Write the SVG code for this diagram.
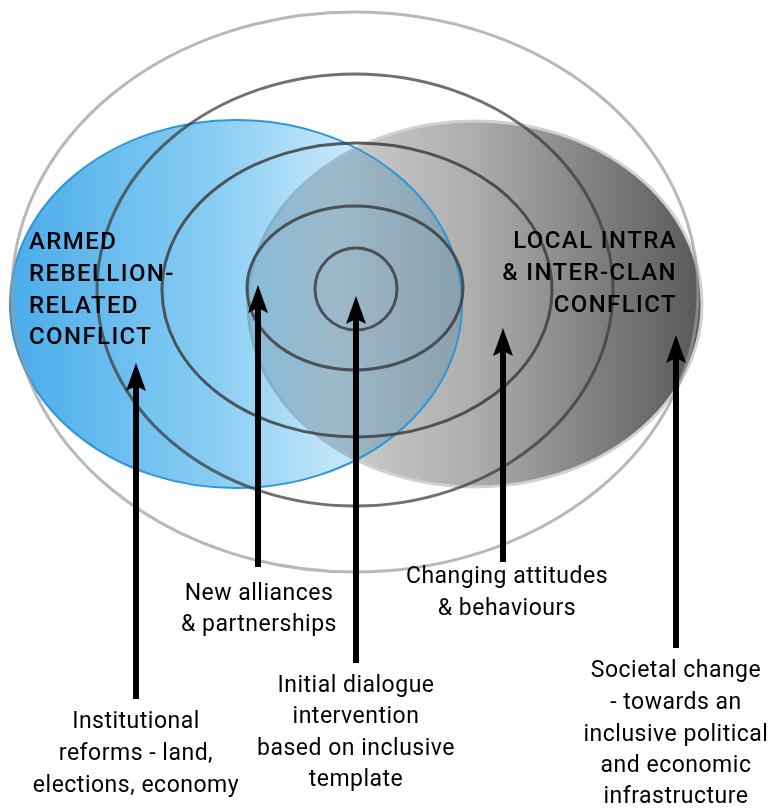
<svg xmlns="http://www.w3.org/2000/svg" width="774" height="809" viewBox="0 0 774 809">
  <style>
    .title { font-family: Roboto, "Liberation Sans", sans-serif; font-size: 24px; font-weight: 500; fill: #000; letter-spacing: 1.4px; }
    .label { font-family: Roboto, "Liberation Sans", sans-serif; font-size: 23px; font-weight: 400; fill: #000; text-anchor: middle; letter-spacing: 0.5px; }
    .ring { fill: none; stroke: #3a3a3a; stroke-width: 3; stroke-opacity: 0.82; }
    .ring-outer { fill: none; stroke: #9a9a9a; stroke-width: 3; stroke-opacity: 0.7; }
    .shaft { stroke: #000; stroke-width: 6; marker-end: url(#head); }
  </style>
  <defs>
    <linearGradient id="blueFill" gradientUnits="userSpaceOnUse" x1="10" y1="0" x2="462" y2="0">
      <stop offset="0" stop-color="#4aacea"/>
      <stop offset="0.45" stop-color="#88cdf3"/>
      <stop offset="0.72" stop-color="#c2e6fa"/>
      <stop offset="1" stop-color="#c8e9fb"/>
    </linearGradient>
    <linearGradient id="grayFill" gradientUnits="userSpaceOnUse" x1="247" y1="0" x2="702" y2="0">
      <stop offset="0" stop-color="#e2e2e2"/>
      <stop offset="0.5" stop-color="#adadad"/>
      <stop offset="1" stop-color="#585858"/>
    </linearGradient>
    <marker id="head" markerUnits="userSpaceOnUse" viewBox="-10 -12 32 24" markerWidth="32" markerHeight="24" refX="0" refY="0" orient="auto">
      <path d="M20,0 L-8,-10 L-3,0 L-8,10 Z" fill="#000"/>
    </marker>
  </defs>

  <!-- conflict areas -->
  <g id="armed-rebellion">
    <ellipse cx="236" cy="304" rx="226" ry="184" fill="url(#blueFill)"/>
  </g>
  <g id="local-clan">
    <ellipse cx="475" cy="304" rx="227" ry="183" fill="url(#grayFill)" stroke="#d0d0d0" stroke-width="3" style="mix-blend-mode: multiply"/>
  </g>
  <ellipse cx="236" cy="304" rx="226" ry="184" fill="none" stroke="#2f96d8" stroke-width="2"/>

  <!-- concentric rings of change -->
  <g id="rings">
    <ellipse class="ring" cx="356" cy="289" rx="41" ry="41"/>
    <ellipse class="ring" cx="355" cy="288" rx="108" ry="82"/>
    <ellipse class="ring" cx="357" cy="290" rx="195" ry="147"/>
    <ellipse class="ring" cx="355" cy="290" rx="258" ry="216" style="stroke-opacity:0.72"/>
    <ellipse class="ring-outer" cx="355" cy="292" rx="343" ry="280"/>
  </g>

  <g id="title-armed">
    <text class="title" x="29" y="249">ARMED</text>
    <text class="title" x="29" y="281">REBELLION-</text>
    <text class="title" x="29" y="313">RELATED</text>
    <text class="title" x="29" y="344">CONFLICT</text>
  </g>
  <g id="title-local">
    <text class="title" x="677" y="248" text-anchor="end">LOCAL INTRA</text>
    <text class="title" x="677" y="280" text-anchor="end">&amp; INTER-CLAN</text>
    <text class="title" x="677" y="312" text-anchor="end">CONFLICT</text>
  </g>

  <!-- arrows -->
  <g id="connectors">
    <line class="shaft" x1="136" y1="699" x2="136" y2="383"/>
    <line class="shaft" x1="258" y1="567" x2="258" y2="305"/>
    <line class="shaft" x1="356" y1="663" x2="356" y2="316"/>
    <line class="shaft" x1="503" y1="562" x2="503" y2="348"/>
    <line class="shaft" x1="676" y1="648" x2="676" y2="355"/>
  </g>

  <g id="institutional">
    <text class="label" x="136" y="728">Institutional</text>
    <text class="label" x="136" y="760">reforms - land,</text>
    <text class="label" x="136" y="792">elections, economy</text>
  </g>
  <g id="alliances">
    <text class="label" x="259" y="600">New alliances</text>
    <text class="label" x="259" y="631">&amp; partnerships</text>
  </g>
  <g id="dialogue">
    <text class="label" x="356" y="692">Initial dialogue</text>
    <text class="label" x="356" y="723">intervention</text>
    <text class="label" x="356" y="755">based on inclusive</text>
    <text class="label" x="356" y="786">template</text>
  </g>
  <g id="attitudes">
    <text class="label" x="507" y="583">Changing attitudes</text>
    <text class="label" x="507" y="615">&amp; behaviours</text>
  </g>
  <g id="societal">
    <text class="label" x="676" y="677">Societal change</text>
    <text class="label" x="676" y="709">- towards an</text>
    <text class="label" x="676" y="741">inclusive political</text>
    <text class="label" x="676" y="772">and economic</text>
    <text class="label" x="676" y="803">infrastructure</text>
  </g>
</svg>
